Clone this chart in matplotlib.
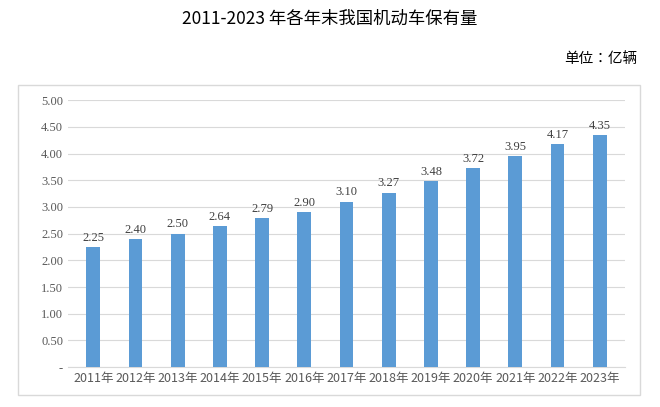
import matplotlib
matplotlib.use("Agg")
import matplotlib.pyplot as plt
from matplotlib import font_manager as fm
from matplotlib.patches import Rectangle

plt.rcParams["font.family"] = "Liberation Serif"

# locate a CJK font file directly
cjk_files = [f for f in fm.findSystemFonts() if "CJK" in f or "cjk" in f.lower()]
cjk_files.sort(key=lambda f: ("SC" not in f, "Regular" not in f, f))
CJK = fm.FontProperties(fname=cjk_files[0]) if cjk_files else fm.FontProperties(family="Noto Sans CJK SC")

years = [f"{y}年" for y in range(2011, 2024)]
values = [2.25, 2.40, 2.50, 2.64, 2.79, 2.90, 3.10, 3.27, 3.48, 3.72, 3.95, 4.17, 4.35]
yticks = [0, 0.5, 1.0, 1.5, 2.0, 2.5, 3.0, 3.5, 4.0, 4.5, 5.0]
ytick_labels = ["-"] + [f"{v:.2f}" for v in yticks[1:]]

fig = plt.figure(figsize=(6.6, 4.07), dpi=100)
ax = fig.add_axes([0.103, 0.098, 0.844, 0.656])

x = range(len(values))
ax.bar(x, values, width=0.33, color="#5B9BD5", zorder=3)
for i, v in enumerate(values):
    ax.text(i, v + 0.06, f"{v:.2f}", ha="center", va="bottom", fontsize=9, color="#404040")

ax.set_ylim(0, 5.0)
ax.set_xlim(-0.6, len(values) - 0.4)
ax.set_yticks(yticks)
ax.set_yticklabels(ytick_labels, fontsize=9, color="#595959")
ax.set_xticks(list(x))
ax.set_xticklabels(years, color="#595959", fontproperties=CJK, fontsize=9)
ax.tick_params(length=0)
ax.grid(axis="y", color="#D9D9D9", linewidth=0.8, zorder=0)
for s in ["top", "right", "left"]:
    ax.spines[s].set_visible(False)
ax.spines["bottom"].set_color("#D9D9D9")

fig.patches.append(Rectangle((0.027, 0.029), 0.943, 0.762, transform=fig.transFigure,
                             fill=False, edgecolor="#D9D9D9", linewidth=1))

fig.text(0.5, 0.955, "2011-2023 年各年末我国机动车保有量", ha="center", va="center",
         fontproperties=CJK, fontsize=12.5)
fig.text(0.965, 0.855, "单位：亿辆", ha="right", va="center", fontproperties=CJK, fontsize=10.5)

fig.savefig("out.png", dpi=100)
